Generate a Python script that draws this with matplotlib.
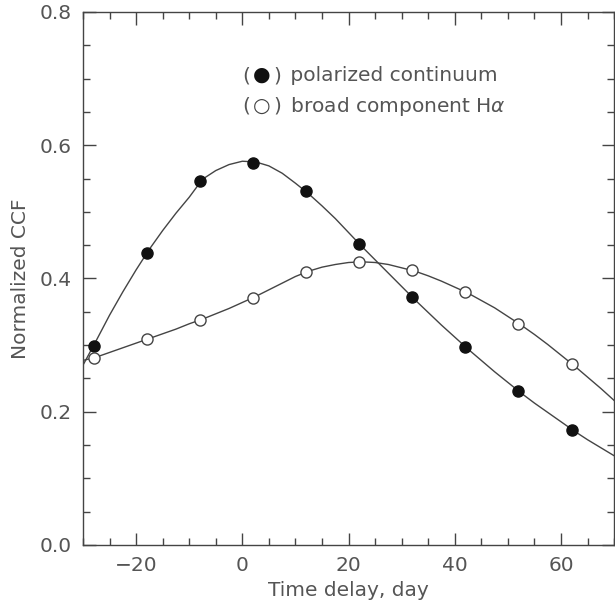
import numpy as np
import matplotlib.pyplot as plt
from matplotlib.offsetbox import TextArea, HPacker, VPacker, AnchoredOffsetbox

# data points
lag = [-28, -18, -8, 2, 12, 22, 32, 42, 52, 62]
ccf_pol = [0.299, 0.439, 0.546, 0.574, 0.531, 0.452, 0.372, 0.297, 0.231, 0.173]
ccf_ha = [0.281, 0.309, 0.338, 0.371, 0.410, 0.425, 0.413, 0.380, 0.332, 0.272]

# smooth curves, every 2.5 days
curve_x = np.arange(-30, 70.1, 2.5)
curve_pol = [0.270, 0.307, 0.345, 0.380, 0.413, 0.444, 0.472, 0.498, 0.522, 0.549,
             0.562, 0.571, 0.576, 0.575, 0.569, 0.558, 0.543, 0.527, 0.509, 0.490,
             0.469, 0.448, 0.428, 0.408, 0.388, 0.368, 0.349, 0.330, 0.312, 0.294,
             0.277, 0.260, 0.244, 0.228, 0.213, 0.199, 0.185, 0.171, 0.158, 0.146, 0.134]
curve_ha = [0.277, 0.282, 0.289, 0.296, 0.303, 0.310, 0.317, 0.324, 0.332, 0.339,
            0.347, 0.355, 0.364, 0.373, 0.383, 0.393, 0.403, 0.411, 0.417, 0.421,
            0.424, 0.425, 0.424, 0.421, 0.416, 0.411, 0.404, 0.396, 0.387, 0.378,
            0.367, 0.356, 0.343, 0.330, 0.316, 0.301, 0.285, 0.269, 0.252, 0.235, 0.217]

labels = ['polarized continuum', 'broad component H$\\alpha$']
symbols = ['\u25CF', '\u25CB']

txt = '#555555'
ink = '#444444'
fs = 14.5

fig = plt.figure(figsize=(6.15, 6.06), dpi=100)
ax = fig.add_axes([0.135, 0.1007, 0.8635, 0.8795])

ax.plot(curve_x, curve_pol, color=ink, lw=1)
ax.plot(curve_x, curve_ha, color=ink, lw=1)
ax.plot(lag, ccf_pol, 'o', color='#111111', ms=8, zorder=3)
ax.plot(lag, ccf_ha, 'o', mfc='white', mec=ink, mew=1, ms=8, zorder=3)

ax.set_xlim(-30, 70)
ax.set_ylim(0, 0.8)
ax.set_xticks([-20, 0, 20, 40, 60])
ax.set_xticks(np.arange(-30, 71, 5), minor=True)
ax.set_yticks([0.0, 0.2, 0.4, 0.6, 0.8])
ax.set_yticks(np.arange(0, 0.81, 0.05), minor=True)
ax.set_yticklabels(['0.0', '0.2', '0.4', '0.6', '0.8'])
ax.tick_params(which='both', direction='in', top=True, right=True, color=ink,
               labelsize=fs, labelcolor=txt, pad=8)
ax.tick_params(which='major', length=9, width=1)
ax.tick_params(which='minor', length=5, width=1)
for s in ax.spines.values():
    s.set_color(ink)
    s.set_linewidth(1)

ax.set_xlabel('Time delay, day', fontsize=fs, color=txt, labelpad=4)
ax.set_ylabel('Normalized CCF', fontsize=fs, color=txt, labelpad=7)

# hand-made key: "( symbol ) label"
rows = []
for sym, lab, col in zip(symbols, labels, ['#111111', ink]):
    parts = [TextArea('(', textprops=dict(fontsize=fs, color=txt)),
             TextArea(sym, textprops=dict(fontsize=fs, color=col)),
             TextArea(')', textprops=dict(fontsize=fs, color=txt)),
             TextArea(' ' + lab, textprops=dict(fontsize=fs, color=txt))]
    rows.append(HPacker(children=parts, align='baseline', pad=0, sep=2))
key = VPacker(children=rows, align='left', pad=0, sep=7)
box = AnchoredOffsetbox(loc='upper left', child=key, frameon=False,
                        bbox_to_anchor=(0.289, 0.909), bbox_transform=ax.transAxes, borderpad=0)
ax.add_artist(box)

fig.savefig('out.png', dpi=100)
